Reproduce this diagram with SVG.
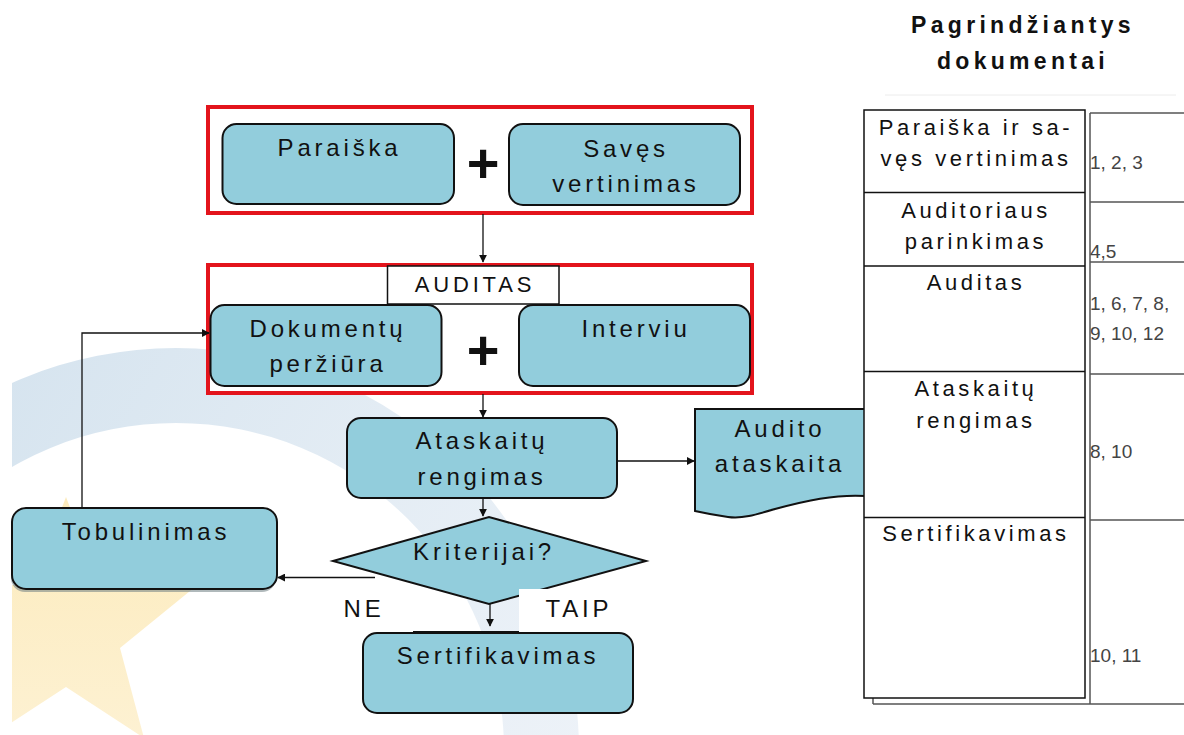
<svg xmlns="http://www.w3.org/2000/svg" width="1184" height="735" viewBox="0 0 1184 735">
<defs>
<style>
.bx{fill:#92cddc;stroke:#111;stroke-width:2}
.sh{fill:#6f7f84;stroke:none;opacity:0.55}
.red{fill:#fff;stroke:#e3141c;stroke-width:4}
.t{font-family:"Liberation Sans",Arial,sans-serif;font-size:24px;letter-spacing:3.8px;fill:#111;text-anchor:middle}
.tt{font-family:"Liberation Sans",Arial,sans-serif;font-size:22px;letter-spacing:3.6px;fill:#111;text-anchor:middle}
.n{font-family:"Liberation Sans",Arial,sans-serif;font-size:19px;fill:#444}
.plus{font-family:"Liberation Sans",Arial,sans-serif;font-size:56px;font-weight:bold;fill:#111;text-anchor:middle}
.hd{font-family:"Liberation Sans",Arial,sans-serif;font-size:23px;font-weight:bold;letter-spacing:4.3px;fill:#111;text-anchor:middle}
.c{fill:none;stroke:#111;stroke-width:1.3}
.g{fill:none;stroke:#555;stroke-width:1.5}
</style>
<marker id="ah" viewBox="0 0 10 10" refX="9" refY="5" markerWidth="8" markerHeight="8" markerUnits="userSpaceOnUse" orient="auto">
<path d="M0,0 L10,5 L0,10 Z" fill="#111"/>
</marker>
<linearGradient id="ringG" gradientUnits="userSpaceOnUse" x1="0" y1="380" x2="600" y2="735">
<stop offset="0" stop-color="#d6e4ef"/>
<stop offset="0.5" stop-color="#e3ecf4"/>
<stop offset="1" stop-color="#edf2f8"/>
</linearGradient>
<linearGradient id="starG" gradientUnits="userSpaceOnUse" x1="60" y1="500" x2="60" y2="735">
<stop offset="0" stop-color="#fcebbd"/>
<stop offset="1" stop-color="#fdf1d2"/>
</linearGradient>
<clipPath id="bgclip"><rect x="12" y="0" width="1172" height="735"/></clipPath>
</defs>
<rect width="1184" height="735" fill="#fff"/>
<g id="background" clip-path="url(#bgclip)">
<path d="M-227,751 A403,403 0 1 1 579,751 A403,403 0 1 1 -227,751 Z M-152,751 A328,328 0 1 0 504,751 A328,328 0 1 0 -152,751 Z" fill="url(#ringG)" fill-rule="evenodd"/>
<polygon points="66,497 99.5,584 192.5,589 120,648 144,738 66,687 -12,738 12,648 -60,589 32.5,584" fill="url(#starG)"/>
</g>

<g id="group-application">
<rect class="red" x="208" y="107" width="544" height="106"/>
</g>
<g id="group-audit">
<rect class="red" x="208" y="265" width="544" height="128"/>
</g>

<g id="node-paraiska">
<rect class="bx" x="222.5" y="124" width="231.5" height="80" rx="14"/>
<text class="t" x="339.5" y="156">Paraiška</text>
</g>
<g id="plus-1"><text class="plus" x="483" y="182">+</text></g>
<g id="node-saves">
<rect class="bx" x="509" y="124" width="231" height="81" rx="14"/>
<text class="t" x="626" y="157">Savęs</text>
<text class="t" x="626" y="192">vertinimas</text>
</g>

<g id="label-auditas">
<rect x="387.5" y="266" width="171.5" height="38" fill="#fff" stroke="#111" stroke-width="1.5"/>
<text class="tt" x="475" y="292" style="letter-spacing:3.8px">AUDITAS</text>
</g>
<g id="node-dokumentu">
<rect class="bx" x="210.5" y="305" width="231" height="81" rx="14"/>
<text class="t" x="328" y="337">Dokumentų</text>
<text class="t" x="328" y="372">peržiūra</text>
</g>
<g id="plus-2"><text class="plus" x="483" y="369">+</text></g>
<g id="node-interviu">
<rect class="bx" x="519" y="305" width="231" height="81" rx="14"/>
<text class="t" x="636" y="337">Interviu</text>
</g>

<g id="node-ataskaitu">
<rect class="bx" x="347" y="418" width="270" height="80" rx="14"/>
<text class="t" x="482" y="449">Ataskaitų</text>
<text class="t" x="482" y="485">rengimas</text>
</g>

<g id="node-audito-ataskaita">
<path class="bx" d="M695,409 H866 V496 C835,494 805,501 775,509 C755,515 742,519 728,517 C714,515 704,513 695,511 Z"/>
<text class="t" x="780" y="437">Audito</text>
<text class="t" x="780" y="472">ataskaita</text>
</g>

<g id="node-kriterijai">
<polygon class="bx" points="333,561 489,517 646,561 489,604"/>
<text class="t" x="484" y="560">Kriterijai?</text>
</g>

<g id="node-tobulinimas">
<rect class="sh" x="11" y="511" width="265" height="81" rx="14"/>
<rect class="bx" x="12" y="508" width="265" height="81" rx="14"/>
<text class="t" x="146" y="540">Tobulinimas</text>
</g>

<g id="node-sertifikavimas">
<rect class="bx" x="363" y="633" width="270" height="80" rx="14"/>
<text class="t" x="498" y="664">Sertifikavimas</text>
</g>

<g id="connectors">
<line class="c" x1="483" y1="214" x2="483" y2="262" marker-end="url(#ah)"/>
<line class="c" x1="483" y1="394" x2="483" y2="417" marker-end="url(#ah)"/>
<line class="c" x1="617" y1="461" x2="694" y2="461" marker-end="url(#ah)"/>
<line class="c" x1="483" y1="498" x2="483" y2="516" marker-end="url(#ah)"/>
<polyline class="c" points="375,577.5 278,577.5" marker-end="url(#ah)"/>
<polyline class="c" points="82,508 82,333 209,333" marker-end="url(#ah)"/>
<line class="c" x1="490" y1="604" x2="490" y2="626" marker-end="url(#ah)"/>
<line x1="413" y1="632" x2="519" y2="632" stroke="#111" stroke-width="2"/>
</g>

<g id="label-ne">
<text class="t" x="364" y="617">NE</text>
</g>
<g id="label-taip">
<rect x="519" y="589" width="112" height="43" fill="#fff"/>
<text class="t" x="579" y="617">TAIP</text>
</g>

<g id="title">
<text class="hd" x="1023" y="33">Pagrindžiantys</text>
<text class="hd" x="1023" y="69">dokumentai</text>
<line x1="885" y1="95" x2="1176" y2="95" stroke="#ececec" stroke-width="1"/>
</g>

<g id="table-documents">
<line class="g" x1="873" y1="704" x2="1184" y2="704"/>
<line class="g" x1="873" y1="698" x2="873" y2="704"/>
<line class="g" x1="1090" y1="113" x2="1090" y2="704"/>
<line class="g" x1="1090" y1="113" x2="1184" y2="113"/>
<line class="g" x1="1090" y1="202" x2="1184" y2="202"/>
<line class="g" x1="1090" y1="262" x2="1184" y2="262"/>
<line class="g" x1="1090" y1="374" x2="1184" y2="374"/>
<line class="g" x1="1090" y1="520" x2="1184" y2="520"/>
<text class="n" x="1090" y="169">1, 2, 3</text>
<text class="n" x="1090" y="258">4,5</text>
<text class="n" x="1090" y="310">1, 6, 7, 8,</text>
<text class="n" x="1090" y="340">9, 10, 12</text>
<text class="n" x="1090" y="458">8, 10</text>
<text class="n" x="1090" y="662">10, 11</text>
</g>

<g id="table-stages">
<rect x="864" y="110" width="221" height="588" fill="#fff" stroke="#111" stroke-width="1.5"/>
<line x1="864" y1="192.5" x2="1085" y2="192.5" stroke="#111" stroke-width="1.5"/>
<line x1="864" y1="266" x2="1085" y2="266" stroke="#111" stroke-width="1.5"/>
<line x1="864" y1="371.5" x2="1085" y2="371.5" stroke="#111" stroke-width="1.5"/>
<line x1="864" y1="517.5" x2="1085" y2="517.5" stroke="#111" stroke-width="1.5"/>
<text class="tt" x="976" y="135">Paraiška ir sa-</text>
<text class="tt" x="976" y="166">vęs vertinimas</text>
<text class="tt" x="976" y="218">Auditoriaus</text>
<text class="tt" x="976" y="249">parinkimas</text>
<text class="tt" x="976" y="290">Auditas</text>
<text class="tt" x="976" y="396">Ataskaitų</text>
<text class="tt" x="976" y="428">rengimas</text>
<text class="tt" x="976" y="541">Sertifikavimas</text>
</g>
</svg>
